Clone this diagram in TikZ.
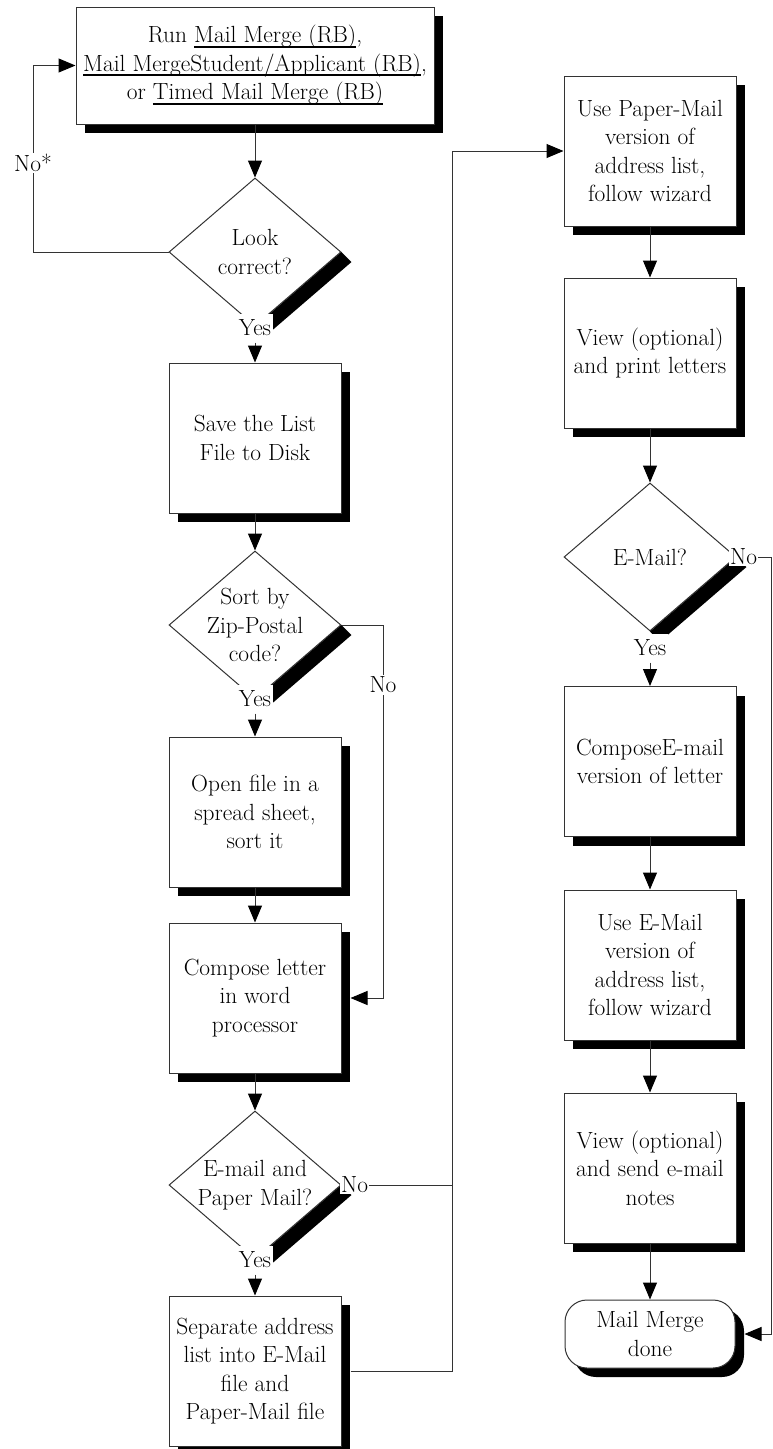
\documentclass[tikz,border=0pt]{standalone}
\usetikzlibrary{arrows.meta,shapes.geometric,shadows}
\newcommand\myul[1]{\leavevmode\setbox0\hbox{#1}\rlap{\rule[-5pt]{\wd0}{2pt}}\box0}
\begin{document}
\begin{tikzpicture}[x=1pt,y=-1pt,
  base/.style={font=\fontsize{23.4}{28.5}\selectfont, align=center},
  shad/.style={drop shadow={shadow xshift=9pt,shadow yshift=-9pt,opacity=1,fill=black}},
  box/.style={base, draw=black!80, line width=1pt, fill=white, minimum width=172pt, minimum height=150pt, inner sep=0pt, shad},
  dia/.style={diamond, draw=black!80, line width=1pt, fill=white, minimum width=172pt, minimum height=148pt, inner sep=0pt},
  lbl/.style={base, fill=white, inner sep=1.5pt},
  ln/.style={draw=black!80, line width=1pt},
  arr/.style={ln, -{Triangle[length=17pt,width=14pt,color=black]}}
]
\useasboundingbox (0,0) rectangle (773,1449);

% left column
\node[box, minimum width=358pt, minimum height=117pt] (top) at (255,65.5)
  {Run \myul{Mail Merge (RB)},\\\myul{Mail MergeStudent/Applicant (RB)},\\or \myul{Timed Mail Merge (RB)}};
\node[dia] (d1) at (255,252) {};
\node[base] at (d1) {Look\\correct?};
\node[box] (save) at (255,438) {Save the List\\File to Disk};
\node[dia] (d2) at (255,625) {};
\node[base] at (d2) {Sort by\\Zip-Postal\\code?};
\node[box] (open) at (255,812) {Open file in a\\spread sheet,\\sort it};
\node[box] (comp) at (255,998) {Compose letter\\in word\\processor};
\node[dia] (d3) at (255,1185) {};
\node[base] at (d3) {E-mail and\\Paper Mail?};
\node[box] (sep) at (255,1371) {Separate address\\list into E-Mail\\file and\\Paper-Mail file};

% right column
\node[box] (pm) at (650,151) {Use Paper-Mail\\version of\\address list,\\follow wizard};
\node[box] (vp) at (650,353) {View (optional)\\and print letters};
\node[dia] (d4) at (650,557) {};
\node[base] at (d4) {E-Mail?};
\node[box] (ce) at (650,761.5) {ComposeE-mail\\version of letter};
\node[box] (ue) at (650,965) {Use E-Mail\\version of\\address list,\\follow wizard};
\node[box] (vs) at (650,1168) {View (optional)\\and send e-mail\\notes};
\node[box, rounded corners=22pt, minimum width=170pt, minimum height=68pt] (done) at (650,1334) {Mail Merge\\done};

% diamond shadows (lower-right edge)
\foreach \d in {d1,d2,d3,d4}
  \fill[black] (\d.east) -- ([shift={(10,10)}]\d.east) -- ([shift={(10,10)}]\d.south) -- (\d.south) -- cycle;

% helper coordinates
\coordinate (jl) at (33,0);
\coordinate (j2) at (383,0);
\coordinate (jx) at (452,0);
\coordinate (jr) at (771,0);

% Yes labels
\node[lbl, minimum height=29pt] (y1) at (255,328) {Yes};
\node[lbl, minimum height=29pt] (y2) at (255,699) {Yes};
\node[lbl, minimum height=29pt] (y3) at (255,1260) {Yes};
\node[lbl, minimum height=29pt] (y4) at (650,648) {Yes};

% connectors
\draw[arr] (top.south) -- (d1.north);
\draw[arr] (y1.south) -- (save.north);
\draw[arr] (save.south) -- (d2.north);
\draw[arr] (y2.south) -- (open.north);
\draw[arr] (open.south) -- (comp.north);
\draw[arr] (comp.south) -- (d3.north);
\draw[arr] (y3.south) -- (sep.north);

\draw[arr] (d1.west) -| (jl |- top.west) -- (top.west);
\draw[arr] (d2.east) -| (j2 |- comp.east) -- ([xshift=9pt]comp.east);
\draw[ln] (d3.east) -- (jx |- d3.east);
\draw[arr] ([xshift=9pt]sep.east) -| (jx |- pm.west) -- (pm.west);

\draw[arr] (pm.south) -- (vp.north);
\draw[arr] (vp.south) -- (d4.north);
\draw[arr] (y4.south) -- (ce.north);
\draw[arr] (ce.south) -- (ue.north);
\draw[arr] (ue.south) -- (vs.north);
\draw[arr] (vs.south) -- (done.north);
\draw[arr] (d4.east) -| (jr |- done.east) -- ([xshift=9pt]done.east);

% No labels
\node[lbl] (n1) at (33,163) {No*};
\node[lbl] (n2) at (383,685) {No};
\node[lbl, anchor=west, inner sep=1pt] (n3) at (340,1185) {No};
\node[lbl, anchor=west, inner sep=1pt] (n4) at (729,557) {No};
\end{tikzpicture}
\end{document}
